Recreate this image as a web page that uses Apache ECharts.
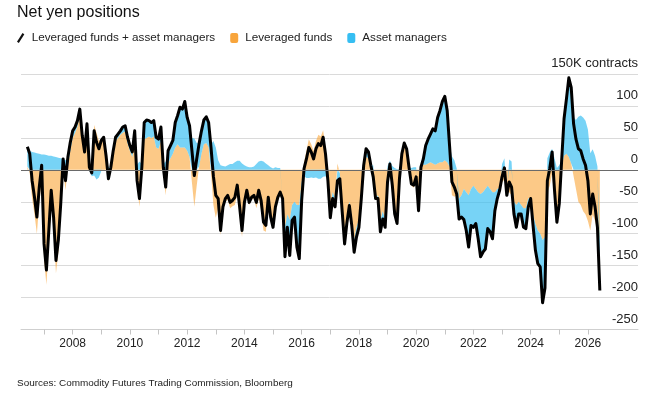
<!DOCTYPE html>
<html>
<head>
<meta charset="utf-8">
<script src="https://cdn.jsdelivr.net/npm/echarts@6/dist/echarts.min.js"></script>
<style>
html,body{margin:0;padding:0;background:#fff;}
#chart{width:651px;height:397px;}
</style>
</head>
<body>
<div id="chart"></div>
<script>
// Monthly readings, starting June 2006 (thousands of contracts)
const startYear = 2006, startMonth = 5; // month index 5 = June
const leveragedFunds = [
  5, -5, -45, -70, -100, -52, -17,
  -140, -180, -117, -54, -95, -162, -129, -71, 0, -32, 5, 30,
  50, 58, 68, 85, 48, 24, 66, 5, 5, 70, 58, 45,
  48, 48, 20, -18, 0, 25, 45, 50, 55, 58, 60, 42,
  30, 20, 50, -25, -58, -5, 48, 50, 52, 50, 52, 35,
  33, 45, -5, -40, 10, 18, 25, 35, 40, 35, 35, 35,
  30, 20, -20, -58, -25, 5, 25, 40, 42, 35, -5, -55,
  -75, -60, -102, -64, -50, -47, -60, -57, -55, -38, -72, -105,
  -58, -37, -55, -47, -45, -60, -45, -62, -95, -97, -50, -78,
  -92, -62, -46, -38, -45, -90, -70, -78, -55, -50, -55, -55,
  -20, 12, 30, 48, 40, 30, 45, 55, 52, 62, 35, -10,
  -62, -35, -45, 10, -5, -55, -100, -70, -50, -75, -110, -90,
  -78, -38, 0, 20, 18, 0, -18, -45, -40, -80, -65, -78,
  -25, -5, -30, -72, -85, -15, 22, 38, 28, 0, -25, -28,
  -15, -55, 0, 8, 8, 10, 12, 10, 8, 10, 12, 12,
  15, 12, 5, -40, -42, -40, -45, -40, -30, -35, -40, -30,
  -25, -30, -35, -38, -35, -30, -25, -30, -35, -35, -30, -28,
  -20, -15, -30, -35, -40, -50, -55, -50, -55, -60, -60, -45,
  -45, -70, -85, -95, -100, -110, -105, -35, -25, -5, -50, -85,
  -60, 5, 22, 25, 20, 10, -10, -30, -50, -55, -65, -70,
  -80, -95, -70, -80, -95, -110
];
const assetManagers = [
  31, 30, 28, 27, 26, 25, 24,
  24, 23, 22, 22, 21, 20, 19, 18, 17, 15, 15, 13,
  11, 9, 9, 10, 6, 4, 6, -1, -10, -9, -15, -12,
  -2, 3, 2, 4, 4, 5, 6, 6, 6, 9, 9, 9,
  8, 8, 11, 8, 13, 9, 26, 28, 25, 24, 25, 16,
  15, 22, 9, 13, 20, 20, 21, 39, 45, 63, 60, 72,
  52, 49, 50, 49, 42, 36, 36, 38, 41, 39, 40, 45,
  35, 15, 7, 6, 5, 7, 9, 9, 12, 14, 14, 10,
  7, 5, 4, 4, 5, 9, 13, 14, 13, 10, 7, 4,
  2, 4, 3, 3, 0, -46, -20, -56, -24, -24, -66, -84,
  -28, -10, -13, -13, -12, -13, -12, -14, -14, -11, -10, -7,
  -13, -10, -13, -27, -9, -11, -16, -12, -6, -12, -19, -15,
  -12, -7, 7, 13, 10, 7, 7, 0, -5, -17, -12, -12,
  6, 14, 6, 3, 1, 1, 3, 4, 5, 4, 3, 4,
  4, -9, 4, 9, 30, 38, 44, 54, 53, 72, 81, 95,
  100, 81, 33, 21, 15, 2, -32, -34, -48, -60, -81, -57,
  -65, -54, -73, -98, -94, -94, -67, -67, -73, -29, -15, -4,
  9, 18, -10, 16, 13, -19, -35, -19, -14, -30, -32, -13,
  0, -17, -41, -52, -52, -98, -80, 18, 27, 33, 18, 3,
  7, 10, 58, 86, 124, 119, 82, 78, 83, 85, 82, 77,
  63, 26, 32, 22, 5, -79
];
const yearTicks = [2007,2008,2009,2010,2011,2012,2013,2014,2015,2016,2017,2018,2019,2020,2021,2022,2023,2024,2025,2026];
const yearLabels = [2008,2010,2012,2014,2016,2018,2020,2022,2024,2026];

// decimal-year positions of the monthly observations
const dates = leveragedFunds.map((_, i) => startYear + (startMonth + i) / 12);
const combined = leveragedFunds.map((v, i) => v + assetManagers[i]);
// value first so that stacking applies to the value dimension
const rows = arr => arr.map((v, i) => [v, dates[i]]);

const FONT = "'Liberation Sans',Arial,Helvetica,sans-serif";

const chart = echarts.init(document.getElementById('chart'), null, {renderer: 'canvas'});
chart.setOption({
  animation: false,
  backgroundColor: '#fff',
  title: [
    {text: 'Net yen positions', left: 12, top: 0,
     textStyle: {fontFamily: FONT, fontSize: 16, fontWeight: 'normal', color: '#111'}},
    {text: 'Sources: Commodity Futures Trading Commission, Bloomberg', left: 12, top: 373,
     textStyle: {fontFamily: FONT, fontSize: 9.95, fontWeight: 'normal', color: '#222'}}
  ],
  legend: {
    left: 12, top: 27, itemGap: 15, itemWidth: 8, itemHeight: 10,
    selectedMode: false,
    textStyle: {fontFamily: FONT, fontSize: 11.7, color: '#222', padding: [0, 0, 0, 2]},
    data: [
      {name: 'Leveraged funds + asset managers', icon: 'path://M0,9.6 L6,0 L8,1.3 L2,10.9 Z', itemStyle: {color: '#111', borderWidth: 0}},
      {name: 'Leveraged funds', icon: 'roundRect', itemStyle: {color: '#F8A53C', borderWidth: 0}},
      {name: 'Asset managers', icon: 'roundRect', itemStyle: {color: '#36BEF2', borderWidth: 0}}
    ]
  },
  grid: {left: 21, right: 13, top: 74, height: 255.5},
  xAxis: {
    type: 'value', min: 2006.195, max: 2027.75,
    axisLine: {show: true, onZero: false, lineStyle: {color: '#cfcfcf', width: 1}},
    axisTick: {show: true, length: 5, customValues: yearTicks, lineStyle: {color: '#c4c4c4'}},
    axisLabel: {customValues: yearLabels, margin: 8, formatter: v => String(Math.round(v)),
      fontFamily: FONT, fontSize: 12, color: '#222'},
    splitLine: {show: false}
  },
  yAxis: {
    type: 'value', position: 'right', min: -250, max: 150, interval: 50,
    axisLine: {show: false}, axisTick: {show: false},
    splitLine: {lineStyle: {color: '#dadada', width: 1}},
    axisLabel: {inside: true, margin: 0, verticalAlign: 'bottom', lineHeight: 21,
      fontFamily: FONT, fontSize: 13, color: '#222',
      formatter: v => v === 150 ? '150K contracts' : String(v)}
  },
  series: [
    {name: 'Leveraged funds', type: 'line', stack: 'net', symbol: 'none',
     data: rows(leveragedFunds), encode: {x: 1, y: 0},
     color: '#F8A53C',
     lineStyle: {width: 0},
     areaStyle: {color: 'rgba(250,168,62,0.62)', opacity: 1}},
    {name: 'Asset managers', type: 'line', stack: 'net', symbol: 'none',
     data: rows(assetManagers), encode: {x: 1, y: 0},
     color: '#36BEF2',
     lineStyle: {width: 0},
     areaStyle: {color: 'rgba(54,190,242,0.68)', opacity: 1}},
    {name: 'Leveraged funds + asset managers', type: 'line', symbol: 'none', z: 4,
     data: rows(combined), encode: {x: 1, y: 0},
     color: '#000',
     lineStyle: {color: '#000', width: 3, join: 'round'},
     markLine: {silent: true, symbol: ['none', 'none'], label: {show: false},
       lineStyle: {color: '#6a6a6a', width: 1, type: 'solid'}, data: [{yAxis: 0}]}}
  ]
});
</script>
</body>
</html>
